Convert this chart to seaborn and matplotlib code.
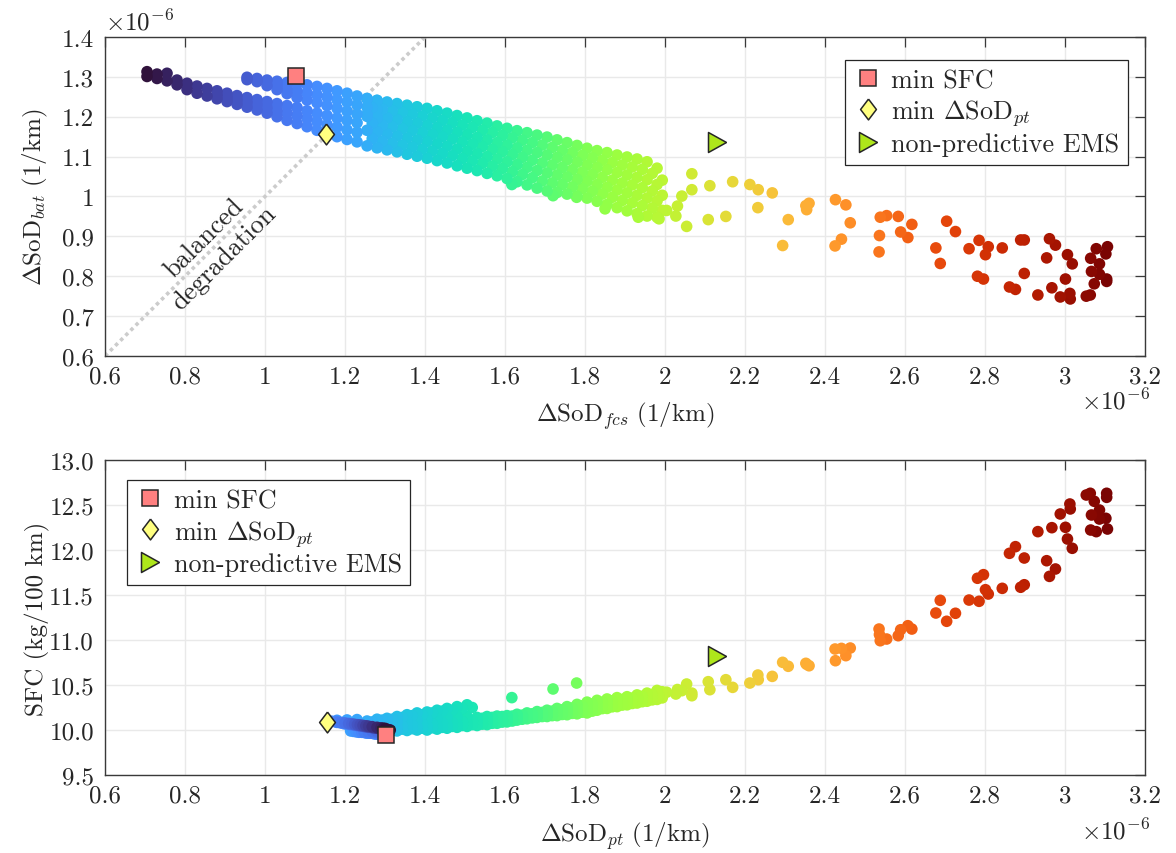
import numpy as np
import pandas as pd
import matplotlib
matplotlib.use("Agg")
import matplotlib.pyplot as plt
from matplotlib.ticker import FuncFormatter
import seaborn as sns

# ---------------------------------------------------------------------------
# Pareto sweep of the predictive EMS (degradation rates in 1e-6 per km,
# SFC in kg/100 km).  Each strand lists fcs, battery and SFC values.
# ---------------------------------------------------------------------------

# dark strand family (low fuel-cell degradation)
dark_fcs = [0.705, 0.73, 0.755, 0.78, 0.805, 0.83, 0.855, 0.88, 0.905, 0.93, 0.955,
            0.98, 1.005, 1.03, 1.055, 1.08, 1.105, 1.13, 1.155, 1.18, 1.205, 1.23]
dark_bat_hi = [1.313, 1.307, 1.309, 1.292, 1.284, 1.277, 1.271, 1.265, 1.259, 1.253, 1.248,
               1.243, 1.238, 1.233, 1.228, 1.223, 1.215, 1.209, 1.203, 1.197, 1.191, 1.185]
dark_sfc_hi = [10.000, 10.004, 10.002, 10.013, 10.017, 10.022, 10.025, 10.029, 10.032, 10.036, 10.039,
               10.042, 10.045, 10.048, 10.051, 10.054, 10.059, 10.062, 10.066, 10.070, 10.073, 10.077]
dark_bat_lo = [1.301, 1.296, 1.290, 1.280, 1.268, 1.259, 1.252, 1.245, 1.238, 1.231, 1.224,
               1.217, 1.209, 1.200, 1.191, 1.183, 1.175, 1.166, 1.157, 1.150, 1.143, 1.137]
dark_sfc_lo = [10.017, 10.020, 10.024, 10.030, 10.037, 10.042, 10.047, 10.051, 10.055, 10.059, 10.063,
               10.068, 10.072, 10.078, 10.083, 10.088, 10.093, 10.098, 10.104, 10.108, 10.112, 10.116]
dark_bat_mid = [1.255, 1.248, 1.242, 1.236, 1.230, 1.223, 1.216, 1.210, 1.203, 1.196, 1.188,
                1.180, 1.174, 1.167, 1.161]
dark_sfc_mid = [10.040, 10.044, 10.048, 10.051, 10.055, 10.059, 10.063, 10.067, 10.071, 10.075, 10.080,
                10.085, 10.089, 10.093, 10.096]

# upper blue strand family (lowest SFC)
blue_fcs = [0.955, 0.98, 1.005, 1.03, 1.055, 1.08, 1.105, 1.13, 1.155, 1.18, 1.205, 1.23, 1.255, 1.28]
blue_bat_hi = [1.299, 1.296, 1.292, 1.289, 1.286, 1.283, 1.280, 1.276, 1.271, 1.265, 1.259, 1.252, 1.246, 1.241]
blue_sfc_hi = [9.99, 9.98, 9.975, 9.97, 9.965, 9.96, 9.955, 9.955, 9.96, 9.965, 9.97, 9.975, 9.98, 9.985]
blue_bat_lo = [1.293, 1.288, 1.278, 1.268, 1.258, 1.248, 1.242, 1.235, 1.228, 1.221, 1.214, 1.207, 1.201, 1.196]
blue_sfc_lo = [10.0, 9.995, 9.99, 9.985, 9.98, 9.975, 9.975, 9.975, 9.98, 9.985, 9.99, 9.995, 10.0, 10.0]
blue_bat_mid = [1.279, 1.272, 1.265, 1.260, 1.255, 1.250, 1.243, 1.237, 1.230, 1.224, 1.218]
blue_sfc_mid = [9.975, 9.97, 9.965, 9.965, 9.965, 9.97, 9.975, 9.98, 9.985, 9.99, 9.995]

# main band, seven strands on two staggered fcs grids
band_fcs_a = [1.255, 1.28, 1.305, 1.33, 1.355, 1.38, 1.405, 1.43, 1.455, 1.48, 1.505, 1.53, 1.555, 1.58, 1.605,
              1.63, 1.655, 1.68, 1.705, 1.73, 1.755, 1.78, 1.805, 1.83, 1.855, 1.88, 1.905, 1.93, 1.955, 1.98]
band_fcs_b = [1.268, 1.293, 1.318, 1.343, 1.368, 1.393, 1.418, 1.443, 1.468, 1.493, 1.518, 1.543, 1.568, 1.593, 1.618,
              1.643, 1.668, 1.693, 1.718, 1.743, 1.768, 1.793, 1.818, 1.843, 1.868, 1.893, 1.918, 1.943, 1.968, 1.993]

band_bat_0 = [1.127, 1.122, 1.117, 1.112, 1.106, 1.101, 1.096, 1.090, 1.084, 1.077, 1.071, 1.065, 1.058, 1.052, 1.045,
              1.037, 1.029, 1.021, 1.014, 1.010, 1.006, 1.001, 0.996, 0.988, 0.980, 0.972, 0.964, 0.957, 0.951, 0.948]
band_sfc_0 = [10.10, 10.12, 10.13, 10.15, 10.17, 10.19, 10.20, 10.22, 10.24, 10.26, 10.28, 10.14, 10.15, 10.155, 10.16,
              10.175, 10.19, 10.205, 10.22, 10.24, 10.26, 10.285, 10.31, 10.33, 10.345, 10.36, 10.37, 10.39, 10.41, 10.44]
band_bat_1 = [1.145, 1.139, 1.134, 1.129, 1.124, 1.119, 1.114, 1.108, 1.102, 1.095, 1.089, 1.083, 1.076, 1.070, 1.062,
              1.055, 1.047, 1.039, 1.034, 1.030, 1.024, 1.020, 1.013, 1.006, 0.998, 0.990, 0.984, 0.977, 0.971, 0.965]
band_sfc_1 = [10.09, 10.11, 10.12, 10.14, 10.16, 10.17, 10.19, 10.21, 10.22, 10.24, 10.25, 10.13, 10.14, 10.15, 10.155,
              10.165, 10.18, 10.195, 10.21, 10.225, 10.245, 10.27, 10.29, 10.31, 10.325, 10.34, 10.355, 10.375, 10.395, 10.425]
band_bat_2 = [1.166, 1.162, 1.157, 1.152, 1.147, 1.142, 1.138, 1.132, 1.126, 1.119, 1.113, 1.107, 1.100, 1.094, 1.087,
              1.080, 1.073, 1.065, 1.059, 1.054, 1.049, 1.043, 1.038, 1.030, 1.023, 1.016, 1.009, 1.003, 0.996, 0.989]
band_sfc_2 = [10.06, 10.07, 10.08, 10.09, 10.10, 10.11, 10.12, 10.13, 10.14, 10.145, 10.15, 10.11, 10.12, 10.128, 10.137,
              10.153, 10.168, 10.183, 10.197, 10.213, 10.23, 10.25, 10.27, 10.293, 10.31, 10.327, 10.34, 10.36, 10.38, 10.407]
band_bat_3 = [1.184, 1.179, 1.175, 1.170, 1.166, 1.161, 1.156, 1.150, 1.144, 1.137, 1.131, 1.125, 1.118, 1.112, 1.105,
              1.098, 1.091, 1.084, 1.079, 1.073, 1.067, 1.061, 1.055, 1.048, 1.041, 1.034, 1.029, 1.022, 1.014, 1.003]
band_sfc_3 = [10.035, 10.04, 10.045, 10.05, 10.06, 10.065, 10.07, 10.08, 10.085, 10.09, 10.10, 10.095, 10.105, 10.115, 10.125,
              10.143, 10.158, 10.173, 10.185, 10.2, 10.215, 10.233, 10.25, 10.275, 10.293, 10.31, 10.325, 10.345, 10.365, 10.39]
band_bat_4 = [1.206, 1.201, 1.197, 1.193, 1.188, 1.184, 1.179, 1.173, 1.167, 1.161, 1.155, 1.148, 1.142, 1.135, 1.129,
              1.122, 1.116, 1.110, 1.104, 1.098, 1.092, 1.086, 1.079, 1.073, 1.067, 1.060, 1.054, 1.048, 1.042, 1.030]
band_sfc_4 = [10.02, 10.02, 10.025, 10.03, 10.035, 10.04, 10.045, 10.05, 10.06, 10.07, 10.075, 10.08, 10.09, 10.102, 10.113,
              10.132, 10.147, 10.162, 10.173, 10.187, 10.2, 10.215, 10.23, 10.257, 10.275, 10.293, 10.31, 10.33, 10.35, 10.373]
band_bat_5 = [1.223, 1.219, 1.215, 1.211, 1.207, 1.202, 1.197, 1.191, 1.185, 1.179, 1.173, 1.166, 1.160, 1.153, 1.147,
              1.141, 1.135, 1.129, 1.123, 1.116, 1.110, 1.103, 1.097, 1.091, 1.085, 1.079, 1.074, 1.068, 1.058, 1.041]
band_sfc_5 = [10.0, 10.0, 10.005, 10.01, 10.015, 10.02, 10.025, 10.03, 10.04, 10.05, 10.06, 10.065, 10.075, 10.088, 10.1,
              10.12, 10.135, 10.15, 10.16, 10.173, 10.185, 10.198, 10.21, 10.238, 10.258, 10.277, 10.295, 10.315, 10.335, 10.357]
band_bat_6 = [1.245, 1.241, 1.237, 1.233, 1.229, 1.225, 1.221, 1.215, 1.209, 1.203, 1.197, 1.190, 1.184, 1.177, 1.171,
              1.165, 1.160, 1.154, 1.149, 1.142, 1.135, 1.128, 1.121, 1.115, 1.110, 1.104, 1.099, 1.094, 1.087, 1.071]
band_sfc_6 = [9.99, 9.99, 9.99, 9.99, 9.995, 10.0, 10.0, 10.01, 10.02, 10.03, 10.04, 10.05, 10.06, 10.075, 10.09,
              10.11, 10.125, 10.14, 10.15, 10.16, 10.17, 10.18, 10.19, 10.22, 10.24, 10.26, 10.28, 10.30, 10.32, 10.34]

# scattered solutions towards high fuel-cell degradation
tail_fcs = [1.617, 1.720, 1.779, 1.850, 1.933, 1.985, 2.004,
            2.027, 2.031, 2.042, 2.054, 2.067, 2.067,
            2.108, 2.112, 2.152, 2.169, 2.212, 2.232, 2.233, 2.268,
            2.294, 2.308, 2.352, 2.354, 2.360,
            2.425, 2.426, 2.441, 2.452, 2.463,
            2.535, 2.536, 2.538, 2.554,
            2.583, 2.589, 2.607, 2.617,
            2.677, 2.688, 2.704, 2.726, 2.760,
            2.781, 2.785, 2.796, 2.801, 2.808, 2.843,
            2.861, 2.876, 2.889, 2.898, 2.898,
            2.932, 2.954, 2.961, 2.967, 2.976, 2.988,
            3.001, 3.006, 3.012, 3.013, 3.018,
            3.053, 3.063, 3.064, 3.066, 3.073, 3.078,
            3.086, 3.086, 3.102, 3.104, 3.104, 3.106]
tail_bat = [1.030, 1.002, 0.998, 0.969, 0.948, 0.944, 0.965,
            0.951, 0.976, 1.001, 0.925, 1.057, 1.017,
            0.942, 1.027, 0.950, 1.037, 1.030, 0.972, 1.017, 1.009,
            0.877, 0.942, 0.977, 0.967, 0.983,
            0.876, 0.992, 0.893, 0.979, 0.934,
            0.861, 0.902, 0.948, 0.952,
            0.950, 0.911, 0.897, 0.930,
            0.871, 0.832, 0.938, 0.912, 0.869,
            0.800, 0.890, 0.793, 0.854, 0.874, 0.871,
            0.773, 0.767, 0.891, 0.891, 0.807,
            0.753, 0.846, 0.894, 0.771, 0.878, 0.748,
            0.793, 0.854, 0.757, 0.743, 0.831,
            0.750, 0.753, 0.845, 0.812, 0.781, 0.869,
            0.831, 0.805, 0.856, 0.793, 0.787, 0.874]
tail_sfc = [10.36, 10.456, 10.522, 10.30, 10.35, 10.38, 10.42,
            10.40, 10.45, 10.437, 10.511, 10.381, 10.41,
            10.537, 10.448, 10.559, 10.474, 10.522, 10.611, 10.559, 10.596,
            10.752, 10.708, 10.741, 10.73, 10.714,
            10.90, 10.770, 10.907, 10.826, 10.911,
            11.122, 11.06, 10.992, 11.011,
            11.048, 11.114, 11.159, 11.122,
            11.30, 11.441, 11.208, 11.297, 11.444,
            11.686, 11.43, 11.726, 11.559, 11.511, 11.574,
            11.963, 12.037, 11.586, 11.614, 11.911,
            12.204, 11.881, 11.707, 12.248, 11.789, 12.40,
            12.252, 12.122, 12.511, 12.456, 12.019,
            12.611, 12.63, 12.222, 12.389, 12.541, 12.204,
            12.444, 12.344, 12.352, 12.63, 12.585, 12.233]

# highlighted operating points: (fcs, bat, SFC)
min_sfc_point = (1.077, 1.302, 9.94)
min_pt_point = (1.152, 1.156, 10.09)
non_predictive_point = (2.129, 1.137, 10.82)

balanced_line = [0.6, 1.4]
x_ticks = [0.6, 0.8, 1.0, 1.2, 1.4, 1.6, 1.8, 2.0, 2.2, 2.4, 2.6, 2.8, 3.0, 3.2]
y_ticks_top = [0.6, 0.7, 0.8, 0.9, 1.0, 1.1, 1.2, 1.3, 1.4]
y_ticks_bottom = [9.5, 10.0, 10.5, 11.0, 11.5, 12.0, 12.5, 13.0]


def block(f, b, s):
    return pd.DataFrame({"fcs": f, "bat": b, "sfc": s})


cloud = pd.concat([
    block(dark_fcs, dark_bat_hi, dark_sfc_hi),
    block(dark_fcs, dark_bat_lo, dark_sfc_lo),
    block(dark_fcs[7:], dark_bat_mid, dark_sfc_mid),
    block(blue_fcs, blue_bat_hi, blue_sfc_hi),
    block(blue_fcs, blue_bat_lo, blue_sfc_lo),
    block(blue_fcs[3:], blue_bat_mid, blue_sfc_mid),
    block(band_fcs_a, band_bat_0, band_sfc_0),
    block(band_fcs_b, band_bat_1, band_sfc_1),
    block(band_fcs_a, band_bat_2, band_sfc_2),
    block(band_fcs_b, band_bat_3, band_sfc_3),
    block(band_fcs_a, band_bat_4, band_sfc_4),
    block(band_fcs_b, band_bat_5, band_sfc_5),
    block(band_fcs_a, band_bat_6, band_sfc_6),
    block(tail_fcs, tail_bat, tail_sfc),
], ignore_index=True)
# powertrain degradation is governed by the faster-ageing component
cloud["pt"] = np.maximum(cloud["fcs"], cloud["bat"])
cloud = cloud.sort_values("fcs", ascending=False).reset_index(drop=True)

# ---------------------------------------------------------------------------
sns.set_style("white")
plt.rcParams.update({
    "font.family": ["cmr10"],
    "mathtext.fontset": "cm",
    "axes.formatter.use_mathtext": True,
    "axes.unicode_minus": False,
})

TXT = "#262626"
EDGE = "#3a3a3a"
FS = 18
DOT = 70

fig = plt.figure(figsize=(11.76, 8.54), dpi=100)
ax1 = fig.add_axes([0.0893, 0.582, 0.8844, 0.3735])
ax2 = fig.add_axes([0.0893, 0.0913, 0.8844, 0.3689])

g_fmt = FuncFormatter(lambda v, p: f"{v:g}")


def style_axes(ax, yticks, yfmt):
    ax.set_xlim(0.6, 3.2)
    ax.set_xticks(x_ticks)
    ax.set_yticks(yticks)
    ax.xaxis.set_major_formatter(g_fmt)
    ax.yaxis.set_major_formatter(yfmt)
    ax.grid(True, color="#e9e9e9", linewidth=1.0)
    ax.set_axisbelow(True)
    for sp in ax.spines.values():
        sp.set_visible(True)
        sp.set_color(EDGE)
        sp.set_linewidth(1.0)
    ax.tick_params(direction="in", length=7, width=0.9, color=EDGE, top=True, right=True,
                   labelsize=FS, labelcolor=TXT)
    ax.tick_params(axis="x", pad=7)
    ax.tick_params(axis="y", pad=8)


def mark_points(ax, xs, ys):
    ax.plot(xs[0], ys[0], ls="none", marker="s", ms=11.5, mfc="#ff8080", mec=TXT, mew=1.1,
            label="min SFC", zorder=6)
    ax.plot(xs[1], ys[1], ls="none", marker=[(0, 1), (0.76, 0), (0, -1), (-0.76, 0), (0, 1)],
            ms=15, mfc="#ffff80", mec=TXT, mew=1.1, label=r"min $\Delta\mathrm{SoD}_{pt}$", zorder=6)
    ax.plot(xs[2], ys[2], ls="none", marker=[(0.9, 0), (-0.9, 1), (-0.9, -1), (0.9, 0)],
            ms=14.4, mfc="#aee61b", mec=TXT, mew=1.1, label="non-predictive EMS", zorder=6)


def add_legend(ax, anchor, loc):
    leg = ax.legend(loc=loc, bbox_to_anchor=anchor, borderaxespad=0, fontsize=FS + 0.8, frameon=True,
                    fancybox=False, edgecolor=TXT, framealpha=1, handletextpad=0.35,
                    handlelength=1.1, borderpad=0.33, labelspacing=0.2)
    leg.get_frame().set_linewidth(0.9)
    for t in leg.get_texts():
        t.set_color(TXT)


hi = [min_sfc_point, min_pt_point, non_predictive_point]

# ---- top: battery vs fuel-cell degradation --------------------------------
ax1.plot(balanced_line, balanced_line, color="#cccccc", lw=2.6, ls=(0, (1.0, 1.0)), zorder=1)
sns.scatterplot(data=cloud, x="fcs", y="bat", hue="fcs", palette="turbo", s=DOT, linewidth=0,
                legend=False, ax=ax1, zorder=3)
mark_points(ax1, [p[0] for p in hi], [p[1] for p in hi])
style_axes(ax1, y_ticks_top, g_fmt)
ax1.set_ylim(0.6, 1.4)
ax1.text(0.872, 0.872, "balanced\ndegradation", rotation=45, rotation_mode="anchor",
         ha="center", va="center", multialignment="center", fontsize=FS + 1, color=TXT,
         linespacing=1.25, zorder=4)
ax1.set_xlabel(r"$\Delta\mathrm{SoD}_{fcs}\ (1/\mathrm{km})$", fontsize=FS, color=TXT)
ax1.set_ylabel(r"$\Delta\mathrm{SoD}_{bat}\ (1/\mathrm{km})$", fontsize=FS, color=TXT)
ax1.xaxis.set_label_coords(0.5, -0.135)
ax1.yaxis.set_label_coords(-0.053, 0.5)
ax1.text(0.0, 1.025, r"$\times10^{-6}$", transform=ax1.transAxes, ha="left", va="baseline",
         fontsize=FS, color=TXT)
ax1.text(1.005, -0.165, r"$\times10^{-6}$", transform=ax1.transAxes, ha="right", va="baseline",
         fontsize=FS, color=TXT)
add_legend(ax1, (0.9837, 0.928), "upper right")

# ---- bottom: SFC vs powertrain degradation --------------------------------
sns.scatterplot(data=cloud, x="pt", y="sfc", hue="fcs", palette="turbo", s=DOT, linewidth=0,
                legend=False, ax=ax2, zorder=3)
mark_points(ax2, [max(p[0], p[1]) for p in hi], [p[2] for p in hi])
style_axes(ax2, y_ticks_bottom, FuncFormatter(lambda v, p: f"{v:.1f}"))
ax2.set_ylim(9.5, 13.0)
ax2.set_xlabel(r"$\Delta\mathrm{SoD}_{pt}\ (1/\mathrm{km})$", fontsize=FS, color=TXT)
ax2.set_ylabel("SFC (kg/100 km)", fontsize=FS, color=TXT)
ax2.xaxis.set_label_coords(0.5, -0.14)
ax2.yaxis.set_label_coords(-0.053, 0.5)
ax2.text(1.005, -0.2, r"$\times10^{-6}$", transform=ax2.transAxes, ha="right", va="baseline",
         fontsize=FS, color=TXT)
add_legend(ax2, (0.0212, 0.9365), "upper left")

fig.savefig("out.png", dpi=100)
